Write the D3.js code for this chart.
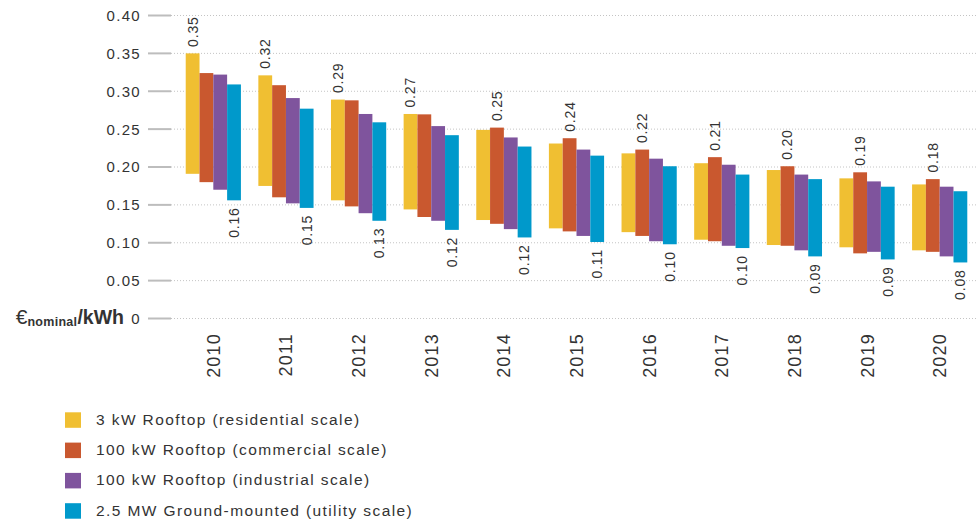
<!DOCTYPE html>
<html>
<head>
<meta charset="utf-8">
<script src="https://cdn.jsdelivr.net/npm/d3@7"></script>
<style>
  html, body { margin: 0; padding: 0; background: #fff; }
  #chart { width: 977px; height: 521px; }
  text { font-family: "Liberation Sans", Arial, sans-serif; fill: #333; }
</style>
</head>
<body>
<div id="chart"></div>
<script>
////////////// DATA //////////////

const years = ["2010", "2011", "2012", "2013", "2014", "2015", "2016", "2017", "2018", "2019", "2020"];

const seriesNames = [
    "3 kW Rooftop (residential scale)",
    "100 kW Rooftop (commercial scale)",
    "100 kW Rooftop (industrial scale)",
    "2.5 MW Ground-mounted (utility scale)"
];
const seriesColors = ["#F0BF32", "#C9582F", "#7F549D", "#0099CB"];

// low / high of each range bar, €/kWh
const residentialHigh = [0.350, 0.321, 0.289, 0.270, 0.249, 0.231, 0.218, 0.205, 0.196, 0.185, 0.177];
const residentialLow  = [0.191, 0.175, 0.156, 0.144, 0.130, 0.119, 0.114, 0.104, 0.097, 0.094, 0.090];
const commercialHigh  = [0.324, 0.308, 0.288, 0.2695, 0.252, 0.238, 0.223, 0.213, 0.201, 0.193, 0.184];
const commercialLow   = [0.180, 0.160, 0.148, 0.134, 0.125, 0.115, 0.109, 0.102, 0.096, 0.086, 0.088];
const industrialHigh  = [0.322, 0.291, 0.270, 0.254, 0.239, 0.223, 0.211, 0.203, 0.190, 0.181, 0.174];
const industrialLow   = [0.170, 0.152, 0.139, 0.129, 0.118, 0.109, 0.102, 0.096, 0.090, 0.088, 0.082];
const utilityHigh     = [0.309, 0.277, 0.259, 0.242, 0.227, 0.215, 0.201, 0.190, 0.184, 0.174, 0.168];
const utilityLow      = [0.156, 0.146, 0.129, 0.117, 0.107, 0.101, 0.098, 0.093, 0.082, 0.078, 0.074];

const topLabels    = ["0.35", "0.32", "0.29", "0.27", "0.25", "0.24", "0.22", "0.21", "0.20", "0.19", "0.18"];
const bottomLabels = ["0.16", "0.15", "0.13", "0.12", "0.12", "0.11", "0.10", "0.10", "0.09", "0.09", "0.08"];

const yTicks = [0, 0.05, 0.10, 0.15, 0.20, 0.25, 0.30, 0.35, 0.40];

////////////// CHART //////////////

const highs = [residentialHigh, commercialHigh, industrialHigh, utilityHigh];
const lows = [residentialLow, commercialLow, industrialLow, utilityLow];

const width = 977, height = 521;

const svg = d3.select("#chart").append("svg")
    .attr("width", width)
    .attr("height", height);

const y = d3.scaleLinear().domain([0, 0.4]).range([318.5, 15.5]);

const x = d3.scaleBand()
    .domain(years)
    .range([177, 976])
    .paddingInner(0.24)
    .paddingOuter(0.12);

const xSeries = d3.scaleBand()
    .domain(d3.range(seriesNames.length))
    .range([0, x.bandwidth()]);

// grid
const grid = svg.append("g").attr("class", "grid");
grid.selectAll("line.solid")
    .data(yTicks)
    .enter().append("line")
    .attr("class", "solid")
    .attr("x1", 148).attr("x2", 171)
    .attr("y1", d => y(d)).attr("y2", d => y(d))
    .style("stroke", "#bdbdbd")
    .style("stroke-width", 2);
grid.selectAll("line.dotted")
    .data(yTicks)
    .enter().append("line")
    .attr("class", "dotted")
    .attr("x1", 171).attr("x2", width)
    .attr("y1", d => y(d)).attr("y2", d => y(d))
    .style("stroke", "#c4c4c4")
    .style("stroke-width", 1)
    .style("stroke-dasharray", "1,2");

// y tick labels
svg.append("g").selectAll("text")
    .data(yTicks)
    .enter().append("text")
    .attr("x", 141)
    .attr("y", d => y(d))
    .attr("dy", "0.36em")
    .style("text-anchor", "end")
    .style("font-size", "15px")
    .style("letter-spacing", "1.3px")
    .text(d => d === 0 ? "0" : d3.format(".2f")(d));

// unit label
const unit = svg.append("text")
    .attr("x", 124)
    .attr("y", y(0))
    .attr("dy", "0.36em")
    .style("text-anchor", "end");
unit.append("tspan").style("font-size", "21px").text("€");
unit.append("tspan").style("font-size", "12.5px").style("font-weight", "bold")
    .style("letter-spacing", "0.3px").attr("dy", 2).text("nominal");
unit.append("tspan").style("font-size", "19.5px").style("font-weight", "bold").attr("dy", -2).text("/kWh");

// bars
const groups = svg.append("g").selectAll("g")
    .data(years)
    .enter().append("g")
    .attr("transform", d => `translate(${x(d)},0)`);

groups.selectAll("rect")
    .data((d, i) => seriesNames.map((s, k) => ({ k: k, lo: lows[k][i], hi: highs[k][i] })))
    .enter().append("rect")
    .attr("x", d => xSeries(d.k))
    .attr("width", xSeries.bandwidth())
    .attr("y", d => y(d.hi))
    .attr("height", d => y(d.lo) - y(d.hi))
    .attr("fill", d => seriesColors[d.k]);

// value labels
groups.append("text")
    .attr("transform", (d, i) => {
        const k = d3.maxIndex(highs, s => s[i]);
        return `translate(${xSeries(k) + xSeries.bandwidth() / 2},${y(highs[k][i]) - 6.5}) rotate(-90)`;
    })
    .attr("dy", "0.35em")
    .style("text-anchor", "start")
    .style("font-size", "14px")
    .style("letter-spacing", "0.8px")
    .text((d, i) => topLabels[i]);

groups.append("text")
    .attr("transform", (d, i) => {
        const k = d3.minIndex(lows, s => s[i]);
        return `translate(${xSeries(k) + xSeries.bandwidth() / 2},${y(lows[k][i]) + 7}) rotate(-90)`;
    })
    .attr("dy", "0.35em")
    .style("text-anchor", "end")
    .style("font-size", "14px")
    .style("letter-spacing", "0.8px")
    .text((d, i) => bottomLabels[i]);

// year labels
svg.append("g").selectAll("text")
    .data(years)
    .enter().append("text")
    .attr("transform", d => `translate(${x(d) + x.bandwidth() / 2},333) rotate(-90)`)
    .attr("dy", "0.36em")
    .style("text-anchor", "end")
    .style("font-size", "18px")
    .style("letter-spacing", "1.2px")
    .text(d => d);

// legend
const legend = svg.append("g").selectAll("g")
    .data(seriesNames)
    .enter().append("g")
    .attr("transform", (d, i) => `translate(65,${412.3 + i * 30.3})`);

legend.append("rect")
    .attr("width", 16)
    .attr("height", 15.5)
    .attr("fill", (d, i) => seriesColors[i]);

legend.append("text")
    .attr("x", 31)
    .attr("y", 12.5)
    .style("font-size", "15.5px")
    .style("letter-spacing", "1.4px")
    .text(d => d);
</script>
</body>
</html>
